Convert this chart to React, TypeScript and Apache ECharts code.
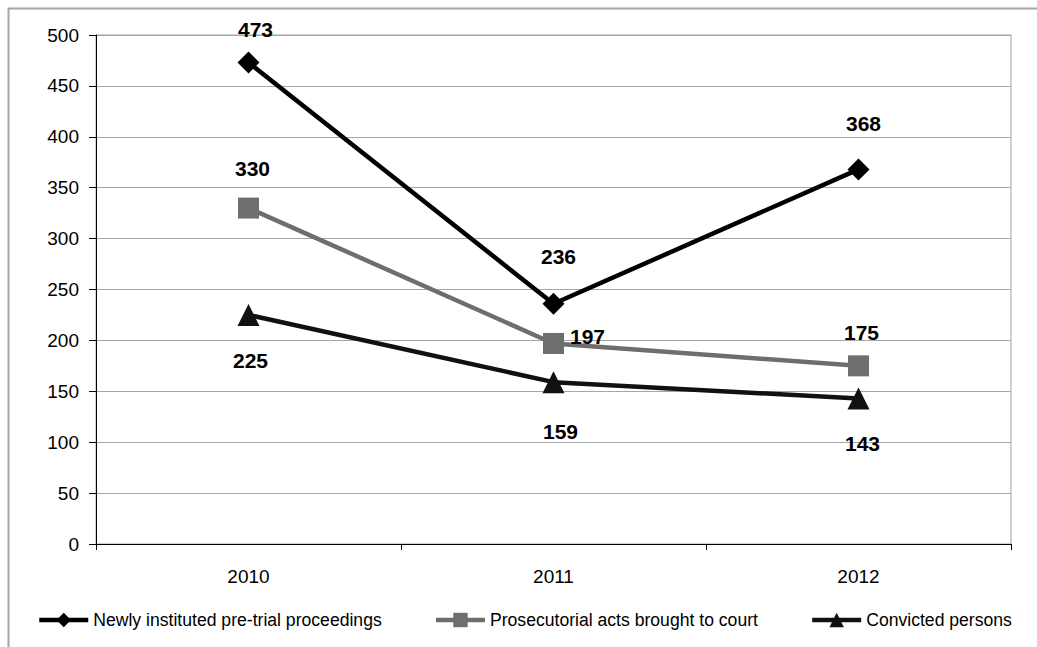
import React, { useEffect, useRef } from "react";
import * as echarts from "echarts";

const years = ["2010", "2011", "2012"];
const newlyInstituted = [473, 236, 368];
const prosecutorialActs = [330, 197, 175];
const convictedPersons = [225, 159, 143];
const yTicks = { min: 0, max: 500, interval: 50 };

const seriesNames = [
  "Newly instituted pre-trial proceedings",
  "Prosecutorial acts brought to court",
  "Convicted persons",
];

// label offsets (dx, dy) relative to the marker centre, per series, per point
const labelOffsets = [
  [[7, -33], [5, -47], [5, -46]],
  [[4, -40], [34, -7], [3, -33]],
  [[2, 46], [7, 49], [4, 45]],
];

const FONT = "'Liberation Sans', Arial, sans-serif";

function buildData(values: number[], s: number) {
  return values.map((v, i) => ({
    value: v,
    label: { offset: labelOffsets[s][i] },
  }));
}

export default function App() {
  const ref = useRef<HTMLDivElement>(null);
  useEffect(() => {
    if (!ref.current) return;
    const chart = echarts.init(ref.current, undefined, { renderer: "svg" });
    const labelStyle = {
      show: true,
      position: "inside",
      color: "#000",
      fontFamily: FONT,
      fontWeight: "bold",
      fontSize: 21,
    };
    chart.setOption({
      animation: false,
      backgroundColor: "#fff",
      textStyle: { fontFamily: FONT },
      graphic: [
        {
          type: "rect",
          shape: { x: 8.5, y: 8.5, width: 1100, height: 700 },
          style: { fill: "none", stroke: "#a6a6a6", lineWidth: 2 },
          silent: true,
        },
      ],
      grid: {
        left: 96,
        right: 26,
        top: 35,
        bottom: 103,
        show: true,
        borderColor: "#a0a0a0",
        borderWidth: 1,
      },
      legend: {
        left: 32,
        top: 606,
        itemWidth: 49,
        itemHeight: 18,
        itemGap: 52,
        lineStyle: { width: 4.5 },
        textStyle: { fontFamily: FONT, fontSize: 17.6, color: "#000" },
        data: seriesNames,
      },
      xAxis: {
        type: "category",
        data: years,
        boundaryGap: true,
        axisLine: { lineStyle: { color: "#000", width: 1 } },
        axisTick: { show: true, length: 6, lineStyle: { color: "#000" } },
        axisLabel: { color: "#000", fontSize: 19, fontFamily: FONT, margin: 23 },
        splitLine: { show: false },
      },
      yAxis: {
        type: "value",
        min: yTicks.min,
        max: yTicks.max,
        interval: yTicks.interval,
        axisLine: { show: true, lineStyle: { color: "#000", width: 1 } },
        axisTick: { show: true, length: 7, lineStyle: { color: "#000" } },
        axisLabel: { color: "#000", fontSize: 19, fontFamily: FONT, margin: 17 },
        splitLine: { show: true, lineStyle: { color: "#a6a6a6", width: 1 } },
      },
      series: [
        {
          name: seriesNames[0],
          type: "line",
          data: buildData(newlyInstituted, 0),
          symbol: "diamond",
          symbolSize: 22,
          lineStyle: { color: "#000", width: 4.5 },
          itemStyle: { color: "#000" },
          label: labelStyle,
          z: 3,
        },
        {
          name: seriesNames[1],
          type: "line",
          data: buildData(prosecutorialActs, 1),
          symbol: "rect",
          symbolSize: 21,
          lineStyle: { color: "#6e6e6e", width: 4.5 },
          itemStyle: { color: "#6e6e6e" },
          label: labelStyle,
          z: 2,
        },
        {
          name: seriesNames[2],
          type: "line",
          data: buildData(convictedPersons, 2),
          symbol: "triangle",
          symbolSize: 22,
          lineStyle: { color: "#111", width: 4.5 },
          itemStyle: { color: "#111" },
          label: labelStyle,
          z: 2,
        },
      ],
    });
    return () => chart.dispose();
  }, []);
  return (
    <div
      ref={ref}
      style={{ position: "fixed", left: 0, top: 0, width: 1037, height: 647, background: "#fff" }}
    />
  );
}
